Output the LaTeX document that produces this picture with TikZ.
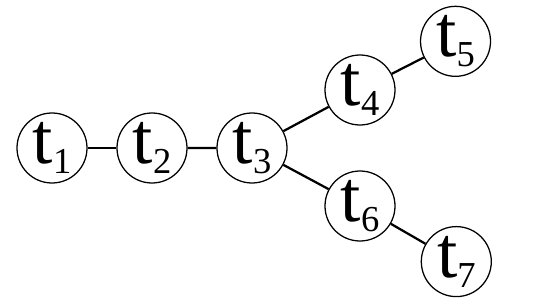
\documentclass[tikz,border=0pt]{standalone}
\usepackage{fontspec}
\setmainfont{Liberation Serif}
\newcommand{\tsub}[1]{\raisebox{-7pt}{\fontsize{26}{26}\selectfont #1}}
\begin{document}
\begin{tikzpicture}[grow=right, level distance=2.5cm,
				level 3/.style={level distance=2.7cm, sibling distance=2.9cm},
				every node/.style={circle, draw, line width=0.9pt, minimum size=1.75cm, inner sep=0pt,
					font=\rmfamily\fontsize{52}{52}\selectfont},
				edge from parent/.style={draw, line width=1.6pt}]
				\useasboundingbox (-1.3,-3.925) rectangle (12.3,3.7);
				\node (t1) {t\tsub{1}}
				child {node (t2) {t\tsub{2}}
					child {node (t3) {t\tsub{3}}
						child {node (t6) {t\tsub{6}}
							child[grow=-30, level distance=2.78cm] {node (t7) {t\tsub{7}}}
						}
						child {node (t4) {t\tsub{4}}
							child[grow=27, level distance=2.68cm] {node (t5) {t\tsub{5}}}
						}
					}
				};
			\end{tikzpicture}
\end{document}
